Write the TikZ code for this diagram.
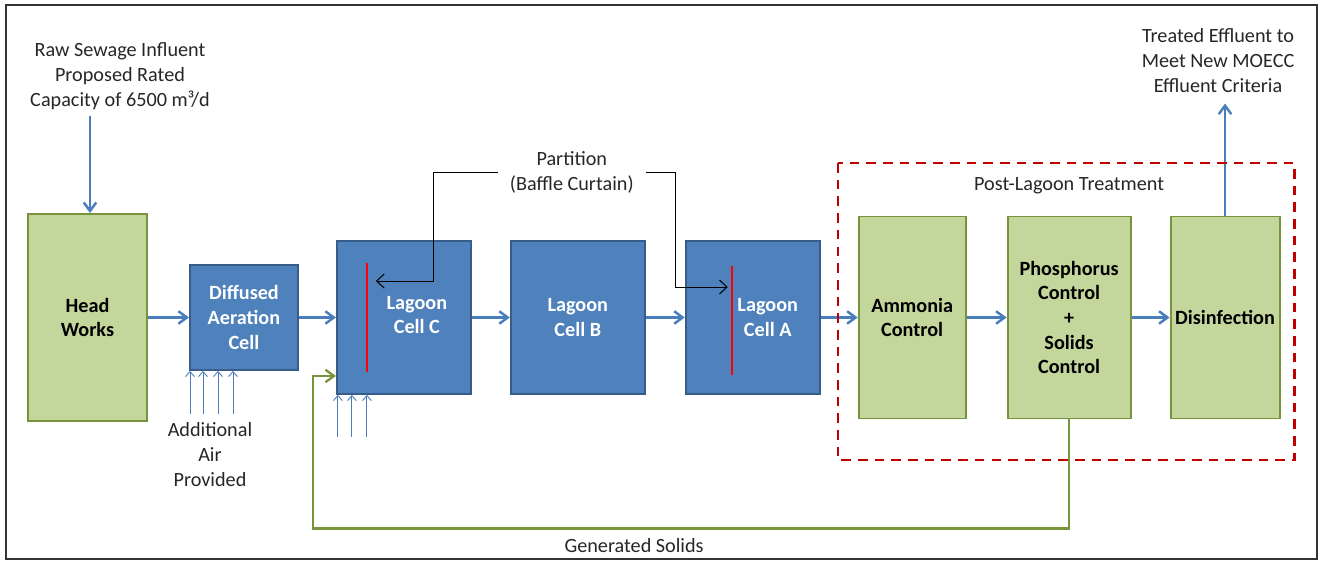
\documentclass[tikz,border=0pt]{standalone}
\usepackage{fontspec}
\setmainfont{Carlito}
\usepackage{xcolor}
\usetikzlibrary{arrows.meta,positioning,calc}

\definecolor{cellfill}{HTML}{4F81BD}
\definecolor{celledge}{HTML}{385D8A}
\definecolor{plantfill}{HTML}{C3D69B}
\definecolor{plantedge}{HTML}{77933C}
\definecolor{flowblue}{HTML}{4A7EBB}
\definecolor{postred}{HTML}{C00000}

\begin{document}
\begin{tikzpicture}[
  node distance=8mm,
  font=\fontsize{11.5}{14.2}\selectfont,
  plant/.style={draw=plantedge, fill=plantfill, line width=1.1pt, align=center, inner sep=1pt, font=\fontsize{11.5}{14}\selectfont\bfseries, minimum height=40.4mm},
  cell/.style={draw=celledge, fill=cellfill, line width=1.1pt, align=center, inner sep=1pt, text=white, font=\fontsize{11.5}{14}\selectfont\bfseries, minimum width=26.8mm, minimum height=30.6mm},
  celltext/.style={align=center, text=white, font=\fontsize{11.5}{14}\selectfont\bfseries},
  note/.style={align=center, text=black!85},
  flow/.style={-{Straight Barb[length=1.7mm,width=2.5mm]}, flowblue, line width=1.4pt},
  air/.style={-{Straight Barb[length=1mm,width=1.8mm]}, flowblue, line width=0.5pt},
  lead/.style={-{Straight Barb[length=1.5mm,width=2.8mm]}, black, line width=0.6pt},
  solids/.style={-{Straight Barb[length=1.7mm,width=2.5mm]}, plantedge, line width=1.3pt},
  baffle/.style={red, line width=1.2pt},
  post/.style={draw=postred, dash pattern=on 5.5pt off 4pt, line width=1.3pt}
]
\useasboundingbox (0,0) rectangle (26.4,-11.24);
\draw[line width=1.2pt, black!80] (0.12,-0.1) rectangle (26.34,-11.18);

% main train
\node[plant, minimum width=23.8mm, minimum height=41.4mm] (head) at (1.75,-6.35) {Head\\Works};
\node[cell, minimum width=21.6mm, minimum height=21mm, right=8.2mm of head] (aer) {Diffused\\Aeration\\Cell};
\node[cell, right=7.4mm of aer] (lagC) {};
\node[cell, right=7.6mm of lagC] (lagB) {Lagoon\\Cell B};
\node[cell, right=7.8mm of lagB] (lagA) {};
\node[plant, minimum width=21.4mm, right=7.4mm of lagA] (amm) {Ammonia\\Control};
\node[plant, minimum width=24.6mm, right=8mm of amm] (phos) {Phosphorus\\Control\\+\\Solids\\Control};
\node[plant, minimum width=21.8mm, right=7.6mm of phos] (dis) {Disinfection};

\node[celltext] (lagCtxt) at ([xshift=2.6mm, yshift=0.5mm]lagC.center) {Lagoon\\Cell C};
\node[celltext] (lagAtxt) at ([xshift=3mm]lagA.center) {Lagoon\\Cell A};

% baffle curtains
\draw[baffle] ([xshift=6.2mm, yshift=-4.6mm]lagC.north west) coordinate (bafC) -- ++(0,-21.8mm);
\draw[baffle] ([xshift=9.4mm, yshift=-5.2mm]lagA.north west) coordinate (bafA) -- ++(0,-21.8mm);

\draw[flow] (head) -- (aer);
\draw[flow] (aer) -- (lagC);
\draw[flow] (lagC) -- (lagB);
\draw[flow] (lagB) -- (lagA);
\draw[flow] (lagA) -- (amm);
\draw[flow] (amm) -- (phos);
\draw[flow] (phos) -- (dis);

% influent and effluent
\node[note, anchor=south] (raw) at ([xshift=6.5mm, yshift=19.4mm]head.north) {Raw Sewage Influent\\Proposed Rated\\Capacity of 6500 m³/d};
\draw[flow] ([xshift=0.5mm]raw.south -| head.north) -- ([xshift=0.5mm]head.north);
\node[note, anchor=south] (eff) at ([xshift=-1.4mm, yshift=23.4mm]dis.north) {Treated Effluent to\\Meet New MOECC\\Effluent Criteria};
\draw[flow] (dis.north) -- ([yshift=-1mm]dis.north |- eff.south);

% air
\foreach \dx in {0.2,2.8,5.8,8.8}
  \draw[air] ([xshift=\dx mm, yshift=-8.6mm]aer.south west) -- ([xshift=\dx mm]aer.south west);
\foreach \dx in {0.4,3.2,6.2}
  \draw[air] ([xshift=\dx mm, yshift=-8.4mm]lagC.south west) -- ([xshift=\dx mm]lagC.south west);
\node[note, anchor=north] (airlbl) at ([xshift=4.2mm, yshift=-9mm]aer.south west) {Additional\\Air\\Provided};

% partition callout
\node[note, inner xsep=2.4mm] (part) at ([xshift=-1.2mm, yshift=13.6mm]lagB.north) {Partition\\(Baffle Curtain)};
\draw[lead] (part.west) -| ([xshift=13.4mm, yshift=-3.6mm]bafC) -- ([xshift=1.8mm, yshift=-3.6mm]bafC);
\draw[lead] (part.east) -| ([xshift=-11.2mm, yshift=-4.2mm]bafA) -- ([xshift=-0.8mm, yshift=-4.2mm]bafA);

% post-lagoon
\draw[post] ($(amm.west |- phos.north)+(-4mm,10.5mm)$) rectangle ([xshift=2.8mm, yshift=-8.1mm]dis.south east);
\node[note, above=3mm of phos] (postlbl) {Post-Lagoon Treatment};

% solids return
\draw[solids] (phos.south) -- ++(0,-21.8mm) coordinate (ret) -| ([xshift=-4.6mm, yshift=3.8mm]lagC.south west) -- ([yshift=3.8mm]lagC.south west);
\node[note, anchor=north] (gen) at ([xshift=-87mm, yshift=-0.8mm]ret) {Generated Solids};
\end{tikzpicture}
\end{document}
